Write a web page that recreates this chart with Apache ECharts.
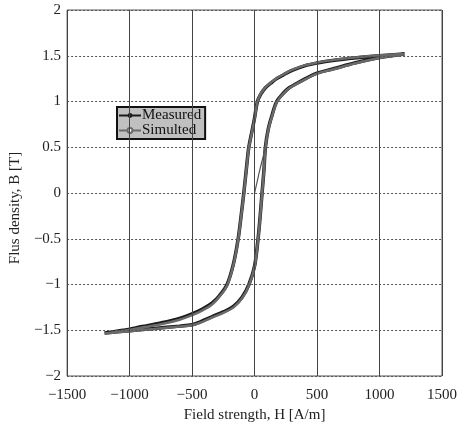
<!DOCTYPE html>
<html>
<head>
<meta charset="utf-8">
<script src="https://cdn.jsdelivr.net/npm/echarts@6/dist/echarts.min.js"></script>
<style>
  html, body { margin: 0; padding: 0; background: #fff; }
  #chart { width: 462px; height: 428px; }
</style>
</head>
<body>
<div id="chart"></div>
<script>
// measured loop, upper (descending) branch, H [A/m] and B [T]
const measDescH = [1200, 1000, 800, 640, 500, 400, 300, 230, 177, 130, 87, 50, 23, 0, -20, -46, -65, -86, -105, -131, -170, -220, -280, -338, -420, -500, -600, -750, -900, -1050, -1200];
const measDescB = [1.52, 1.50, 1.475, 1.45, 1.42, 1.39, 1.34, 1.29, 1.25, 1.20, 1.15, 1.08, 1.0, 0.82, 0.68, 0.5, 0.27, 0, -0.22, -0.5, -0.78, -1.0, -1.12, -1.2, -1.27, -1.32, -1.37, -1.42, -1.46, -1.50, -1.53];
// measured loop, lower (ascending) branch
const measAscH = [-1200, -1000, -800, -600, -500, -438, -338, -250, -169, -100, -45, 0, 28, 45, 60, 75, 87, 110, 140, 177, 230, 277, 340, 408, 500, 638, 800, 1000, 1200];
const measAscB = [-1.53, -1.505, -1.48, -1.455, -1.44, -1.41, -1.35, -1.30, -1.24, -1.14, -1.0, -0.8, -0.5, -0.25, 0, 0.25, 0.5, 0.7, 0.85, 1.0, 1.09, 1.15, 1.2, 1.25, 1.31, 1.36, 1.42, 1.48, 1.52];

// simulated loop
const simDescH = [1200, 1000, 800, 640, 500, 400, 300, 230, 177, 130, 87, 50, 23, 0, -20, -46, -65, -86, -105, -131, -170, -220, -280, -338, -420, -500, -600, -750, -900, -1050, -1200];
const simDescB = [1.52, 1.505, 1.48, 1.455, 1.425, 1.395, 1.345, 1.295, 1.255, 1.205, 1.155, 1.085, 1.0, 0.81, 0.67, 0.49, 0.26, -0.01, -0.23, -0.51, -0.79, -1.01, -1.13, -1.215, -1.285, -1.335, -1.385, -1.435, -1.47, -1.505, -1.535];
const simAscH = [-1200, -1000, -800, -600, -500, -438, -338, -250, -169, -100, -45, 0, 28, 45, 60, 75, 87, 110, 140, 177, 230, 277, 340, 408, 500, 638, 800, 1000, 1200];
const simAscB = [-1.535, -1.51, -1.485, -1.46, -1.445, -1.42, -1.36, -1.31, -1.25, -1.15, -1.01, -0.81, -0.51, -0.26, -0.01, 0.24, 0.49, 0.69, 0.84, 0.99, 1.085, 1.145, 1.195, 1.245, 1.305, 1.355, 1.415, 1.475, 1.515];
// initial magnetisation curve
const initH = [0, 15, 30, 45, 60, 75, 87];
const initB = [0, 0.09, 0.18, 0.27, 0.35, 0.43, 0.49];

const xTicks = [-1500, -1000, -500, 0, 500, 1000, 1500];
const yTicks = [-2, -1.5, -1, -0.5, 0, 0.5, 1, 1.5, 2];

const zip = (hs, bs) => hs.map((h, i) => [h, bs[i]]);
const measData = zip(measDescH, measDescB).concat(zip(measAscH, measAscB).slice(1));
const simData = zip(simDescH, simDescB).concat(zip(simAscH, simAscB).slice(1));
const initData = zip(initH, initB);

const fontFamily = '"Liberation Serif", "DejaVu Serif", serif';
const minus = v => String(v).replace('-', '\u2212');

const chart = echarts.init(document.getElementById('chart'));
chart.setOption({
  animation: false,
  textStyle: { fontFamily },
  grid: {
    left: 51,
    right: 20,
    top: 10,
    bottom: 48,
    show: true,
    borderColor: '#555',
    borderWidth: 1,
  },
  legend: {
    left: 117,
    top: 107,
    orient: 'vertical',
    itemGap: 0,
    itemWidth: 22,
    itemHeight: 6,
    padding: [1, 4, 1, 1],
    backgroundColor: '#c0c0c0',
    borderColor: '#111',
    borderWidth: 2,
    textStyle: { fontFamily, fontSize: 15, color: '#111', padding: [0, 0, 0, -4] },
    data: ['Measured', 'Simulted'],
  },
  xAxis: {
    type: 'value',
    min: xTicks[0],
    max: xTicks[xTicks.length - 1],
    interval: 500,
    z: 5,
    name: 'Field strength, H [A/m]',
    nameLocation: 'middle',
    nameGap: 32,
    nameTextStyle: { fontFamily, fontSize: 15, color: '#222' },
    axisLine: { show: false },
    axisTick: { show: false },
    axisLabel: { fontFamily, fontSize: 15, color: '#222', margin: 12, formatter: minus },
    splitLine: { lineStyle: { color: '#444', width: 1 } },
  },
  yAxis: {
    type: 'value',
    min: yTicks[0],
    max: yTicks[yTicks.length - 1],
    interval: 0.5,
    z: 5,
    name: 'Flus density, B [T]',
    nameLocation: 'middle',
    nameGap: 34,
    nameTextStyle: { fontFamily, fontSize: 15, color: '#222', padding: [0, 30, 0, 0] },
    axisLine: { show: false },
    axisTick: { show: false },
    axisLabel: { fontFamily, fontSize: 15, color: '#222', margin: 6, formatter: minus },
    splitLine: { lineStyle: { color: '#555', width: 1, type: [2, 2] } },
  },
  series: [
    {
      name: 'Measured',
      type: 'line',
      data: measData,
      smooth: 0.35,
      symbol: 'circle',
      symbolSize: 4,
      showSymbol: false,
      itemStyle: { color: '#1a1a1a' },
      lineStyle: { color: '#1a1a1a', width: 3.5 },
    },
    {
      name: 'Simulted',
      type: 'line',
      data: simData,
      smooth: 0.35,
      symbol: 'emptyCircle',
      symbolSize: 2,
      showSymbol: false,
      itemStyle: { color: '#6a6a6a' },
      lineStyle: { color: '#6a6a6a', width: 2.5 },
    },
    {
      name: 'Simulted',
      type: 'line',
      data: initData,
      smooth: 0.3,
      showSymbol: false,
      lineStyle: { color: '#555', width: 1.2 },
    },
  ],
});
</script>
</body>
</html>
